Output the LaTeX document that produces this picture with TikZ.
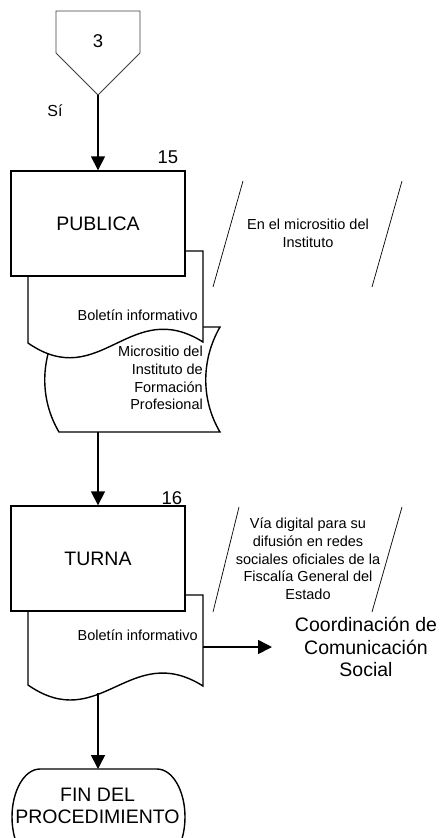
\documentclass[tikz,border=0pt]{standalone}
\usepackage{fontspec}
\setmainfont{Liberation Sans}
\usetikzlibrary{arrows.meta}
\begin{document}
\begin{tikzpicture}[x=1pt,y=-1pt,
 shapeline/.style={line width=1.4pt},
 arr/.style={line width=1.6pt,-{Triangle[length=14pt,width=14pt]}},
 slashline/.style={line width=0.7pt},
 big/.style={font=\fontsize{19.5}{22.5}\selectfont},
 small/.style={font=\fontsize{14.5}{17.7}\selectfont},
 procbox/.style={draw, shapeline, fill=white, minimum width=174pt, minimum height=105pt, inner sep=0pt, big}
]
\clip (0,0) rectangle (445,838);
\fill[white] (0,0) rectangle (445,838);

% off-page connector
\draw[line width=0.8pt, black!75] (56,11) -- (140,11) -- (140,53) -- (98,95) -- (56,53) -- cycle;
\node[font=\fontsize{18.5}{22}\selectfont] (op) at (98,41) {3};
\coordinate (opt) at (98,95);
\node[font=\fontsize{16}{19}\selectfont] (si) at (55,111) {Sí};

% stored data (micrositio)
\draw[shapeline, fill=white] (59,327) -- (220,327) .. controls (201,360) and (201,400) .. (220,432) -- (59,432) .. controls (40,400) and (40,360) .. (59,327) -- cycle;
\coordinate (micb) at (98,432);

% document 1
\draw[shapeline, fill=white] (28,251) -- (203,251) -- (203,342) .. controls (130,296) and (100,393) .. (28,343) -- cycle;
\node[procbox] (pub) at (98,223.5) {PUBLICA};
\node[font=\fontsize{18.5}{22}\selectfont] (n15) at (168,157) {15};
\node[small, anchor=east, inner sep=0pt] (bol1) at (198,315) {Boletín informativo};
\node[small, anchor=east, align=right, inner sep=0pt] (mic) at (203,378) {Micrositio del\\Instituto de\\Formación\\Profesional};

\draw[arr] (opt) -- (pub.north);

% annotation 1
\draw[slashline] (243,181) -- (213,287);
\draw[slashline] (402,181) -- (372,287);
\node[small, align=center] (ann1) at (308,233) {En el micrositio del\\Instituto};

% document 2
\draw[shapeline, fill=white] (28,595) -- (203,595) -- (203,686) .. controls (130,640) and (100,735) .. (28,685) -- cycle;
\node[procbox] (tur) at (98,558.5) {TURNA};
\node[font=\fontsize{18.5}{22}\selectfont] (n16) at (172,498) {16};
\node[small, anchor=east, inner sep=0pt] (bol2) at (198,635) {Boletín informativo};

\draw[arr] (micb) -- (tur.north);

% annotation 2
\draw[slashline] (239,507) -- (213,612);
\draw[slashline] (402,507) -- (372,612);
\node[small, align=center] (ann2) at (308,559) {Vía digital para su\\difusión en redes\\sociales oficiales de la\\Fiscalía General del\\Estado};

% output to Coordinación
\coordinate (d2r) at (203,647);
\coordinate (cend) at (272,647);
\draw[arr] (d2r) -- (cend);
\node[big, align=center] (coord) at (366,647) {Coordinación de\\Comunicación\\Social};

% terminator
\draw[shapeline] (40,769) -- (157,769) .. controls (172.5,769) and (185,790.5) .. (185,817)
  .. controls (185,843.5) and (172.5,865) .. (157,865) -- (40,865)
  .. controls (24.5,865) and (12,843.5) .. (12,817) .. controls (12,790.5) and (24.5,769) .. (40,769) -- cycle;
\node[big, align=center, inner sep=0pt] (fin) at (97.5,806) {FIN DEL\\PROCEDIMIENTO};
\coordinate (fintop) at (98,769);
\coordinate (d2b) at (98,693);
\draw[arr] (d2b) -- (fintop);
\end{tikzpicture}
\end{document}
